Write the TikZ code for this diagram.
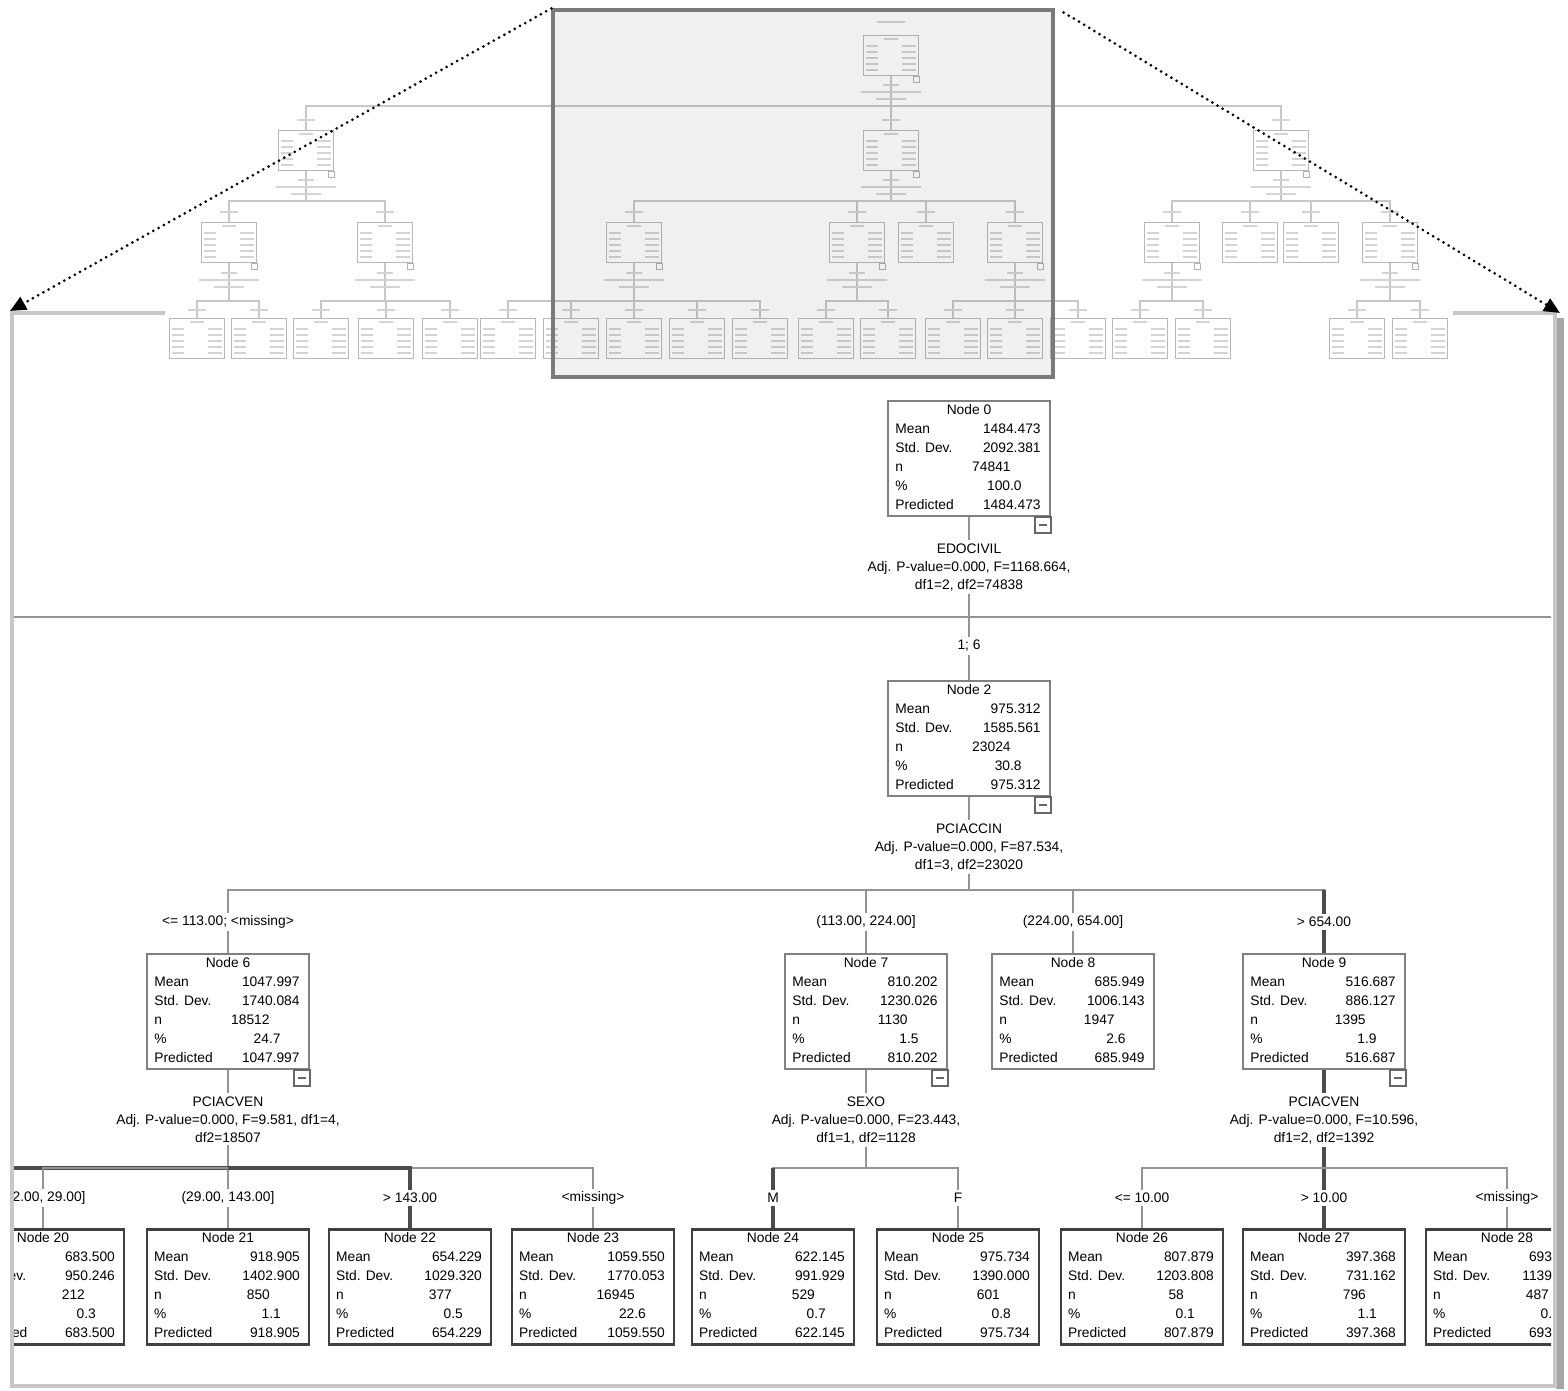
\documentclass[tikz,border=0pt]{standalone}
\usepackage{fontspec}
\setmainfont{Liberation Sans}
\usetikzlibrary{calc,arrows.meta}

\tikzset{
  tbox/.style={draw=black!50, line width=1pt, fill=white, anchor=north,
    minimum width=81pt, minimum height=57.5pt, inner sep=0pt},
  ttxt/.style={font=\fontsize{6.9}{8}\selectfont, inner sep=0pt,
    text height=4.9pt, text depth=0pt},
  tlab/.style={font=\fontsize{6.9}{9}\selectfont, fill=white, inner sep=1.5pt, align=center},
  tlink/.style={draw=black!42, line width=1pt},
  tlinkb/.style={draw=black!70, line width=1.6pt},
  thumb/.style={draw=black!28, line width=.5pt, fill=white, anchor=north,
    minimum width=27.5pt, minimum height=20pt, inner sep=0pt},
  thtxt/.style={draw=black!17, line width=.8pt},
  tthin/.style={draw=black!22, line width=.7pt},
  panel/.style={draw=black!22, line width=2pt, minimum width=771.5pt,
    minimum height=536.5pt, inner sep=0pt},
  zoomwin/.style={draw=black!52, line width=1.6pt, fill=black, fill opacity=.06,
    minimum width=250pt, minimum height=183.5pt, inner sep=0pt},
  zoomarrow/.style={line width=1.5pt, line cap=round, dash pattern=on 0pt off 3pt,
    -{Triangle[length=8pt,width=7pt]}},
}

% one node of the tree: name, x, top, title, mean, std. dev., n, %, predicted
\newcommand{\tnode}[9]{%
  \node[tbox] (#1) at (#2,#3) {};
  \node[ttxt] at ($(#1.north)+(0,10)$) {#4};
  \node[ttxt,anchor=west] at ($(#1.north west)+(8,29)$) {Mean};
  \node[ttxt,anchor=west] at ($(#1.north west)+(8,48)$) {Std. Dev.};
  \node[ttxt,anchor=west] at ($(#1.north west)+(8,67)$) {n};
  \node[ttxt,anchor=west] at ($(#1.north west)+(8,86)$) {\%};
  \node[ttxt,anchor=west] at ($(#1.north west)+(8,105)$) {Predicted};
  \node[ttxt,anchor=east] at ($(#1.north east)+(-10,29)$) {#5};
  \node[ttxt,anchor=east] at ($(#1.north east)+(-10,48)$) {#6};
  \node[ttxt,anchor=east] at ($(#1.north east)+(-40,67)$) {#7};
  \node[ttxt,anchor=east] at ($(#1.north east)+(-29,86)$) {#8};
  \node[ttxt,anchor=east] at ($(#1.north east)+(-10,105)$) {#9};
}
% collapse box under a node
\newcommand{\tgl}[1]{%
  \draw[black!60, line width=.8pt, fill=white] ($(#1.south east)+(-16,0)$) rectangle ($(#1.south east)+(0,16)$);
  \draw[black!60, line width=.6pt] ($(#1.south east)+(-12,8)$) -- ($(#1.south east)+(-4,8)$);
}
% small node of the overview
\newcommand{\tsmall}[3]{%
  \node[thumb] (#1) at (#2,#3) {};
  \draw[thtxt] ($(#1.north)+(-7,4)$) -- ++(14,0);
  \foreach \r in {11,17,23,29,35} {
    \draw[thtxt] ($(#1.north west)+(3,\r)$) -- ++(12,0);
    \draw[thtxt] ($(#1.north east)+(-3,\r)$) -- ++(-14,0);
  }
}
\newcommand{\tsplit}[2]{%
  \draw[black!30, line width=.4pt, fill=white] ($(#1.south east)+(-6,0)$) rectangle ++(6,6);
  \draw[thtxt] ($(#1.south)+(-8,#2)$) -- ++(16,0);
  \draw[thtxt] ($(#1.south)+(-30,#2+7)$) -- ++(60,0);
  \draw[thtxt] ($(#1.south)+(-15,#2+14)$) -- ++(30,0);
}

\begin{document}
\begin{tikzpicture}[x=0.5pt,y=-0.5pt]
\useasboundingbox (0,0) rectangle (1568,1391);

% enlarged part
\draw[black!35, line width=4pt] (1560,318) -- (1560,1389);
\node[panel] (panel) at (783.5,849.5) {};

\begin{scope}
\clip (14,316) rectangle (1551,1384);

\tnode{n0}{969}{400}{Node 0}{1484.473}{2092.381}{74841}{100.0}{1484.473}
\tnode{n2}{969}{680}{Node 2}{975.312}{1585.561}{23024}{30.8}{975.312}
\tnode{n6}{228}{953}{Node 6}{1047.997}{1740.084}{18512}{24.7}{1047.997}
\tnode{n7}{866}{953}{Node 7}{810.202}{1230.026}{1130}{1.5}{810.202}
\tnode{n8}{1073}{953}{Node 8}{685.949}{1006.143}{1947}{2.6}{685.949}
\tnode{n9}{1324}{953}{Node 9}{516.687}{886.127}{1395}{1.9}{516.687}
\begin{scope}[tbox/.append style={draw=black!75, line width=1.3pt}]
\tnode{n20}{43}{1228}{Node 20}{683.500}{950.246}{212}{0.3}{683.500}
\tnode{n21}{228}{1228}{Node 21}{918.905}{1402.900}{850}{1.1}{918.905}
\tnode{n22}{410}{1228}{Node 22}{654.229}{1029.320}{377}{0.5}{654.229}
\tnode{n23}{593}{1228}{Node 23}{1059.550}{1770.053}{16945}{22.6}{1059.550}
\tnode{n24}{773}{1228}{Node 24}{622.145}{991.929}{529}{0.7}{622.145}
\tnode{n25}{958}{1228}{Node 25}{975.734}{1390.000}{601}{0.8}{975.734}
\tnode{n26}{1142}{1228}{Node 26}{807.879}{1203.808}{58}{0.1}{807.879}
\tnode{n27}{1324}{1228}{Node 27}{397.368}{731.162}{796}{1.1}{397.368}
\tnode{n28}{1507}{1228}{Node 28}{693.158}{1139.421}{487}{0.7}{693.158}
\end{scope}

% links
\coordinate (b0) at (969,617);
\coordinate (n1top) at (-713,617);
\coordinate (n3top) at (2085,617);
\draw[tlink] (n0.south) -- (b0) -- (n2.north);
\draw[tlink] (n1top) -- (n3top);

\coordinate (b2) at (969,890);
\draw[tlink] (n2.south) -- (b2);
\foreach \c in {n6,n7,n8,n9}
  \draw[tlink] (b2) -| (\c.north);
\draw[tlinkb] (n9.north) -- ++(0,-63);

\coordinate (b6) at (228,1168);
\coordinate (n19top) at (-138,1228);
\draw[tlink] (n6.south) -- (b6);
\draw[tlinkb] (b6) -| (n19top);
\foreach \c in {n20,n21,n23}
  \draw[tlink] (b6) -| (\c.north);
\draw[tlinkb] (b6) -| (n22.north);

\coordinate (b7) at (866,1168);
\draw[tlink] (n7.south) -- (b7);
\draw[tlink] (b7) -| (n25.north);
\draw[tlink] (b7) -| (n24.north);
\draw[tlinkb] (n24.north) -- ++(0,-60);

\coordinate (b9) at (1324,1168);
\draw[tlinkb] (n9.south) -- (b9) -- (n27.north);
\foreach \c in {n26,n28}
  \draw[tlink] (b9) -| (\c.north);

\foreach \c in {n0,n2,n6,n7,n9} {\tgl{\c}}

% split texts and branch labels
\node[tlab,anchor=north] (s0) at ($(n0.south)+(0,23)$) {EDOCIVIL\\Adj. P-value=0.000, F=1168.664,\\df1=2, df2=74838};
\node[tlab,anchor=north] (s2) at ($(n2.south)+(0,23)$) {PCIACCIN\\Adj. P-value=0.000, F=87.534,\\df1=3, df2=23020};
\node[tlab,anchor=north] (s6) at ($(n6.south)+(0,23)$) {PCIACVEN\\Adj. P-value=0.000, F=9.581, df1=4,\\df2=18507};
\node[tlab,anchor=north] (s7) at ($(n7.south)+(0,23)$) {SEXO\\Adj. P-value=0.000, F=23.443,\\df1=1, df2=1128};
\node[tlab,anchor=north] (s9) at ($(n9.south)+(0,23)$) {PCIACVEN\\Adj. P-value=0.000, F=10.596,\\df1=2, df2=1392};

\node[tlab] (l2) at ($(n2.north)+(0,-34)$) {1; 6};
\node[tlab] (l6) at ($(n6.north)+(0,-31)$) {<= 113.00; <missing>};
\node[tlab] (l7) at ($(n7.north)+(0,-31)$) {(113.00, 224.00]};
\node[tlab] (l8) at ($(n8.north)+(0,-31)$) {(224.00, 654.00]};
\node[tlab] (l9) at ($(n9.north)+(0,-31)$) {> 654.00};
\node[tlab] (l20) at ($(n20.north)+(0,-30)$) {(12.00, 29.00]};
\node[tlab] (l21) at ($(n21.north)+(0,-30)$) {(29.00, 143.00]};
\node[tlab] (l22) at ($(n22.north)+(0,-30)$) {> 143.00};
\node[tlab] (l23) at ($(n23.north)+(0,-30)$) {<missing>};
\node[tlab] (l24) at ($(n24.north)+(0,-30)$) {M};
\node[tlab] (l25) at ($(n25.north)+(0,-30)$) {F};
\node[tlab] (l26) at ($(n26.north)+(0,-30)$) {<= 10.00};
\node[tlab] (l27) at ($(n27.north)+(0,-30)$) {> 10.00};
\node[tlab] (l28) at ($(n28.north)+(0,-30)$) {<missing>};
\end{scope}

% overview of the whole tree
\fill[white] (165,0) rectangle (1453,373);
\foreach \nm/\x/\y in {t0/891/35, t1/306/130, t2/891/130, t3/1281/130,
    t4/229/222, t5/385/222, t6/634/222, t7/857/222, t8/926/222, t9/1015/222,
    t10/1172/222, t11/1250/222, t12/1311/222, t13/1390/222,
    t14/197/318, t15/259/318, t16/321/318, t17/386/318, t18/450/318,
    t19/508/318, t20/571/318, t21/634/318, t22/697/318, t23/760/318,
    t24/826/318, t25/888/318, t26/953/318, t27/1015/318, t28/1078/318,
    t29/1140/318, t30/1203/318, t31/1357/318, t32/1420/318}
  {\tsmall{\nm}{\x}{\y}}
\foreach \p/\c/\d in {t0/t1/30, t0/t2/30, t0/t3/30,
    t1/t4/30, t1/t5/30, t2/t6/30, t2/t7/30, t2/t8/30, t2/t9/30,
    t3/t10/30, t3/t11/30, t3/t12/30, t3/t13/30,
    t4/t14/38, t4/t15/38, t5/t16/38, t5/t17/38, t5/t18/38,
    t6/t19/38, t6/t20/38, t6/t21/38, t6/t22/38, t6/t23/38,
    t7/t24/38, t7/t25/38, t9/t26/38, t9/t27/38, t9/t28/38,
    t10/t29/38, t10/t30/38, t13/t31/38, t13/t32/38}
  \draw[tthin] (\p.south) -- ++(0,\d) -| (\c.north);
\foreach \nm/\o in {t0/9, t1/9, t2/9, t3/9, t4/10, t5/10, t6/10, t7/10, t9/10, t10/10, t13/10}
  {\tsplit{\nm}{\o}}
\foreach \nm in {t1,t2,t3,t4,t5,t6,t7,t8,t9,t10,t11,t12,t13}
  \draw[thtxt] ($(\nm.north)+(-9,-10)$) -- ++(18,0);
\foreach \nm in {t14,t15,t16,t17,t18,t19,t20,t21,t22,t23,t24,t25,t26,t27,t28,t29,t30,t31,t32}
  \draw[thtxt] ($(\nm.north)+(-9,-8)$) -- ++(18,0);
\draw[thtxt] (877,22) -- (905,22);

% zoomed window and its arrows
\node[zoomwin] (win) at (803,193.5) {};
\draw[zoomarrow] (win.north west) -- (panel.north west);
\draw[zoomarrow] ($(win.north east)+(9,4)$) -- ($(panel.north east)+(3,2)$);
\end{tikzpicture}
\end{document}
